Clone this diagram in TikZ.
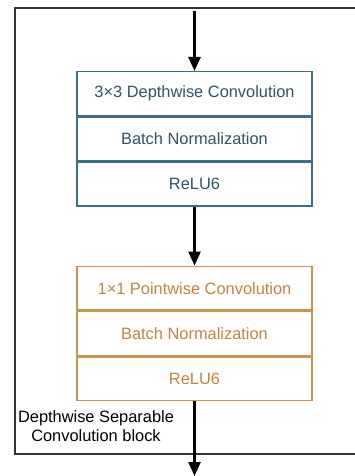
\documentclass[tikz,border=0pt]{standalone}
\usepackage{fontspec}
\setmainfont{Liberation Sans}
\usepackage{tikz}
\usetikzlibrary{arrows.meta,positioning}
\definecolor{dwblue}{HTML}{3E6F87}
\definecolor{dwtext}{HTML}{2E5468}
\definecolor{pworange}{HTML}{D4914A}
\definecolor{pwtext}{HTML}{C4843F}

\begin{document}
\begin{tikzpicture}[
  node distance=59pt,
  font=\fontsize{16.4}{19.5}\selectfont,
  box/.style={rectangle, draw=#1, line width=1.5pt, fill=white,
              minimum width=235pt, minimum height=43.7pt,
              inner sep=0pt, anchor=north},
  arr/.style={-{Triangle[length=14pt, width=12pt]}, line width=2.5pt, black},
  lab/.style={align=center, black}
]
\useasboundingbox (0,0) rectangle (355pt,-476pt);

% ---- outer frame ----
\draw[line width=1.5pt, black!80] (15pt,-8pt) rectangle (370pt,-454pt);

% ---- depthwise stage ----
\node[box=dwblue, text=dwtext] (dw1) at (194.5pt,-71pt) {3×3 Depthwise Convolution};
\node[box=dwblue, text=dwtext, below=0pt of dw1] (dw2) {Batch Normalization};
\node[box=dwblue, text=dwtext, below=0pt of dw2] (dw3) {ReLU6};

% ---- pointwise stage ----
\node[box=pworange, text=pwtext, below=of dw3] (pw1) {1×1 Pointwise Convolution};
\node[box=pworange, text=pwtext, below=0pt of pw1] (pw2) {Batch Normalization};
\node[box=pworange, text=pwtext, below=0pt of pw2] (pw3) {ReLU6};

% ---- block label ----
\node[lab] (blk) at (96pt,-426pt) {Depthwise Separable\\Convolution block};

% in / out
\coordinate (in) at (194.5pt,-11pt);
\coordinate (out) at (194.5pt,-476pt);

% arrows
\draw[arr] (in) -- (dw1.north);
\draw[arr] (dw3.south) -- (pw1.north);
\draw[arr] (pw3.south) -- (out);
\end{tikzpicture}
\end{document}
